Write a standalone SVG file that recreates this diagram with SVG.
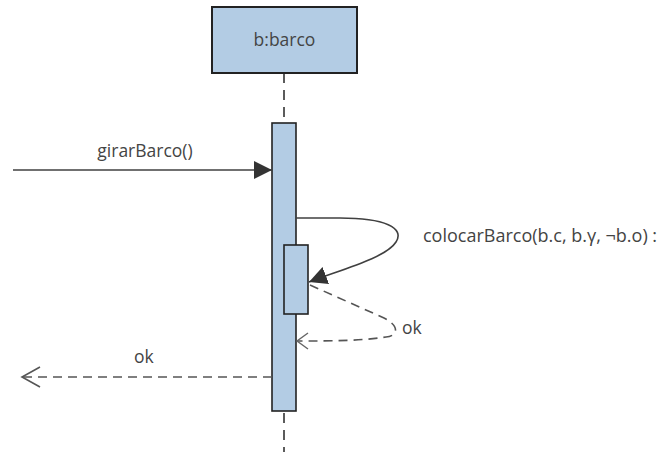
<svg xmlns="http://www.w3.org/2000/svg" width="672" height="452" viewBox="0 0 672 452">
<style>
.obj{fill:#b3cce4;stroke:#222;stroke-width:2}
.act{fill:#b3cce4;stroke:#222;stroke-width:1.6}
.lbl{font-family:"Open Sans","Liberation Sans",sans-serif;font-size:17.5px;fill:#444}
.msg{fill:none;stroke:#404040;stroke-width:1.6}
.ret{fill:none;stroke:#555;stroke-width:1.6;stroke-dasharray:9 6}
</style>
<defs>
<marker id="fill2" markerWidth="20" markerHeight="20" refX="18" refY="9" markerUnits="userSpaceOnUse" orient="auto">
<path d="M0,0 L18,9 L0,18 Z" fill="#333"/>
</marker>
<marker id="open" markerWidth="22" markerHeight="24" refX="20" refY="12" markerUnits="userSpaceOnUse" orient="auto">
<path d="M2,2 L20,12 L2,22" fill="none" stroke="#555" stroke-width="1.6"/>
</marker>
<marker id="open2" markerWidth="14" markerHeight="20" refX="12" refY="10" markerUnits="userSpaceOnUse" orient="auto">
<path d="M1,2 L12,10 L1,18" fill="none" stroke="#666" stroke-width="1.4"/>
</marker>
</defs>
<g id="lifeline">
<line x1="284" y1="73" x2="284" y2="452" stroke="#333" stroke-width="1.6" stroke-dasharray="10 7"/>
</g>
<g id="object-b">
<rect class="obj" x="212" y="7" width="145" height="66"/>
<text class="lbl" x="284.5" y="46" text-anchor="middle">b:barco</text>
</g>
<g id="activation-main">
<rect class="act" x="272" y="123" width="24" height="288"/>
</g>
<g id="activation-inner">
<rect class="act" x="284" y="245" width="24" height="69"/>
</g>
<g id="connectors">
<line class="msg" x1="13" y1="170" x2="272" y2="170" marker-end="url(#fill2)"/>
<path class="msg" d="M296,218 H340 C385,218 405,228 396,242 C386,258 340,270 309,282" marker-end="url(#fill2)"/>
<path class="ret" d="M310,285 L384,318 C400,326 398,336 386,337 C360,341 330,341 297,341" marker-end="url(#open2)"/>
<line class="ret" x1="272" y1="377" x2="22" y2="377" marker-end="url(#open)"/>
</g>
<g id="labels">
<text class="lbl" x="145" y="157" text-anchor="middle">girarBarco()</text>
<text class="lbl" x="423" y="242" style="font-size:18px">colocarBarco(b.c, b.γ, ¬b.o) :</text>
<text class="lbl" x="402" y="334">ok</text>
<text class="lbl" x="134" y="363">ok</text>
</g>
</svg>
